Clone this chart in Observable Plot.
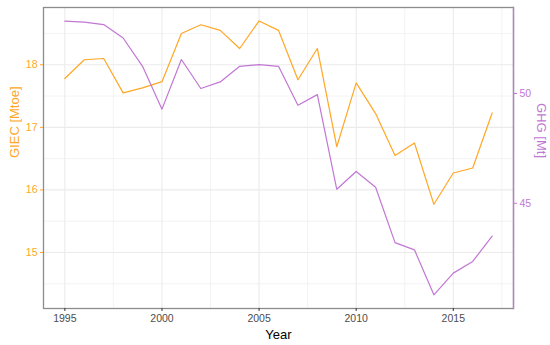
<!DOCTYPE html>
<html>
<head>
<meta charset="utf-8">
<script src="https://cdn.jsdelivr.net/npm/d3@7"></script>
<script src="https://cdn.jsdelivr.net/npm/@observablehq/plot@0.6"></script>
<style>
  html, body { margin: 0; padding: 0; background: #fff; }
  #chart { width: 550px; height: 345px; }
</style>
</head>
<body>
<div id="chart"></div>
<script>
const years = [1995,1996,1997,1998,1999,2000,2001,2002,2003,2004,2005,2006,2007,2008,2009,2010,2011,2012,2013,2014,2015,2016,2017];
const giec = [17.78,18.08,18.10,17.55,17.63,17.73,18.50,18.64,18.55,18.26,18.70,18.55,17.76,18.26,16.69,17.71,17.22,16.55,16.75,15.77,16.27,16.35,17.23];
const ghg  = [53.30,53.25,53.14,52.53,51.24,49.29,51.55,50.23,50.53,51.24,51.32,51.24,49.47,49.95,45.64,46.45,45.73,43.21,42.88,40.83,41.82,42.35,43.51];
const xTicks = [1995,2000,2005,2010,2015];
const xMinor = [1997.5,2002.5,2007.5,2012.5,2017.5];
const giecTicks = [15,16,17,18];
const giecMinor = [14.5,15.5,16.5,17.5,18.5];
const ghgTicks = [45,50];

const ORANGE = "#FFA726";
const PURPLE = "#C177D4";
const k = 0.3508; // GHG -> GIEC scaling used by the secondary axis

const rows = years.map((y,i) => ({year:y, giec:giec[i], ghgS:ghg[i]*k}));

const chart = Plot.plot({
  width: 550,
  height: 345,
  marginLeft: 43,
  marginRight: 37,
  marginTop: 7,
  marginBottom: 37,
  style: {fontFamily: "'Liberation Sans', Arial, sans-serif", fontSize: "10.5px", background: "#fff"},
  x: {domain: [1993.9, 2018.1]},
  y: {domain: [14.105, 18.915]},
  marks: [
    Plot.gridX(xMinor, {stroke: "#EBEBEB", strokeOpacity: 1, strokeWidth: 0.6}),
    Plot.gridY(giecMinor, {stroke: "#EBEBEB", strokeOpacity: 1, strokeWidth: 0.6}),
    Plot.gridX(xTicks, {stroke: "#EBEBEB", strokeOpacity: 1, strokeWidth: 1.1}),
    Plot.gridY(giecTicks, {stroke: "#EBEBEB", strokeOpacity: 1, strokeWidth: 1.1}),
    Plot.lineY(rows, {x: "year", y: "giec", stroke: ORANGE, strokeWidth: 1.2}),
    Plot.lineY(rows, {x: "year", y: "ghgS", stroke: PURPLE, strokeWidth: 1.2}),
    Plot.frame({stroke: "#8C8C8C", strokeWidth: 1.3}),
    Plot.frame({anchor: "right", stroke: PURPLE, strokeWidth: 1.3}),
    Plot.axisX(xTicks, {anchor: "bottom", tickFormat: "d", tickSize: 3, tickPadding: 3, stroke: "#333", fill: "#4D4D4D", label: null}),
    Plot.axisY(giecTicks, {anchor: "left", tickFormat: "d", tickSize: 3, tickPadding: 3, stroke: ORANGE, fill: ORANGE, label: null}),
    Plot.axisY(ghgTicks.map(v => v * k), {anchor: "right", tickSize: 3, tickPadding: 3, stroke: PURPLE, fill: PURPLE, tickFormat: v => Math.round(v / k), label: null}),
    Plot.text(["Year"], {frameAnchor: "bottom", dy: 30, fill: "#000", fontSize: 13}),
    Plot.text(["GIEC [Mtoe]"], {frameAnchor: "left", dx: -29, rotate: -90, fill: ORANGE, fontSize: 13}),
    Plot.text(["GHG [Mt]"], {frameAnchor: "right", dx: 27.5, rotate: 90, fill: PURPLE, fontSize: 13})
  ]
});
document.getElementById("chart").appendChild(chart);
</script>
</body>
</html>
